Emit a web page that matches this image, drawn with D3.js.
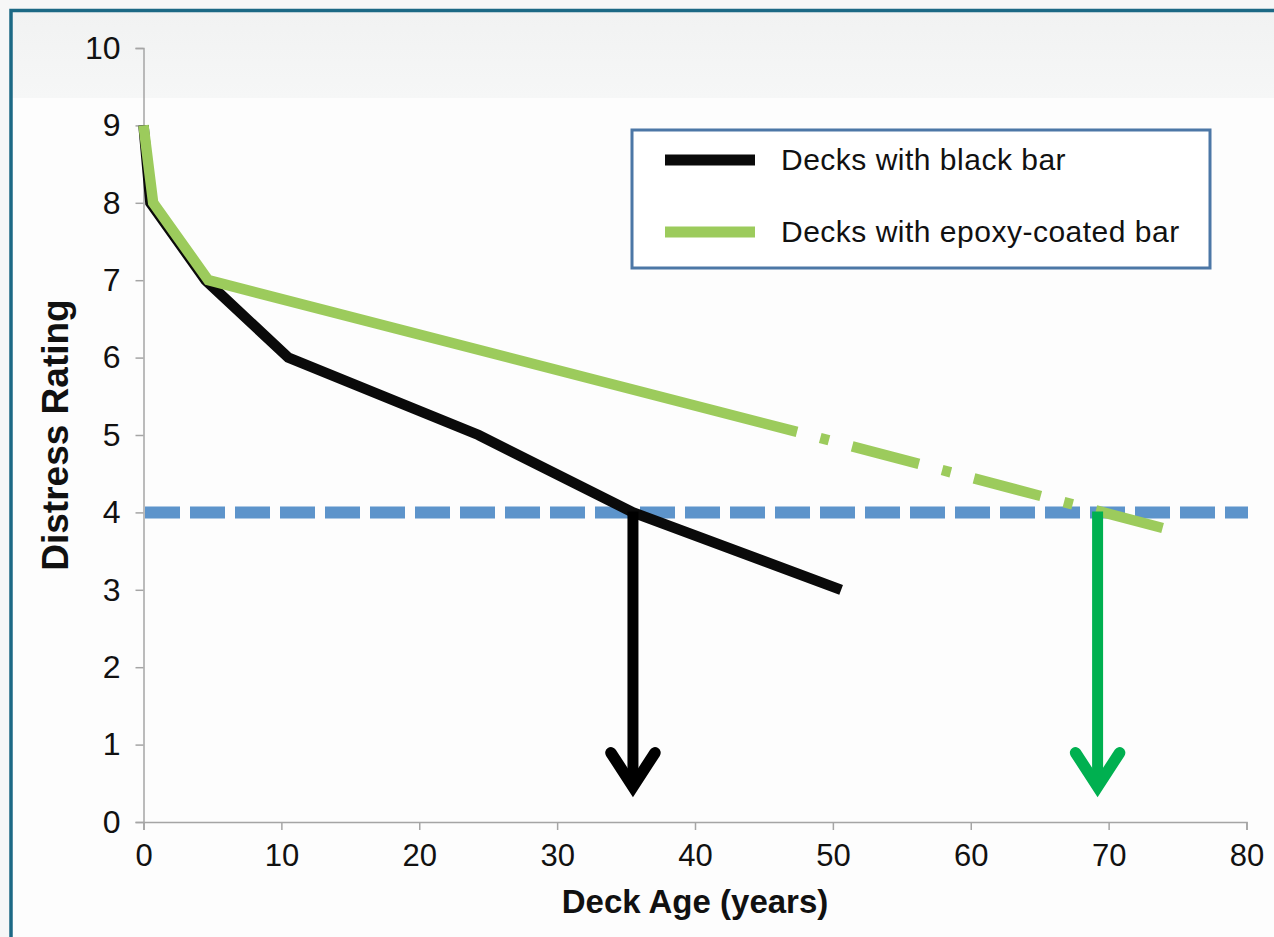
<!DOCTYPE html>
<html>
<head>
<meta charset="utf-8">
<script src="https://cdn.jsdelivr.net/npm/d3@7"></script>
<style>
  html, body { margin: 0; padding: 0; background: #fafafa; }
  svg { display: block; }
  text { font-family: "Liberation Sans", Arial, Helvetica, sans-serif; fill: #111; }
</style>
</head>
<body>
<svg id="chart" width="1274" height="937"></svg>
<script>
// Deck age (years) vs distress rating
const blackBarAge    = [0, 0.5, 4.5, 10.5, 24.3, 35.5, 50.6];
const blackBarRating = [9, 8,   7,   6,    5,    4,    3];

// epoxy-coated bar: observed part, then projected trend
const epoxyAge    = [0, 0.7, 4.7, 47.4];
const epoxyRating = [9, 8,   7,   5.04];
const epoxyProjAge    = [47.4, 74.1];
const epoxyProjRating = [5.04, 3.79];

const thresholdRating = 4;
const serviceLifeAge  = [35.5, 69.2];
const serviceLifeColor = ["#000000", "#00b050"];
const arrowTipRating = 0.3;

const xTicks = [0, 10, 20, 30, 40, 50, 60, 70, 80];
const yTicks = [0, 1, 2, 3, 4, 5, 6, 7, 8, 9, 10];

const legendLabels = ["Decks with black bar", "Decks with epoxy-coated bar"];
const legendColors = ["#0a0a0a", "#9ccb5c"];

const svg = d3.select("#chart");

// panel background and frame
const defs = svg.append("defs");
const grad = defs.append("linearGradient").attr("id", "band").attr("x1", 0).attr("y1", 0).attr("x2", 0).attr("y2", 1);
grad.append("stop").attr("offset", "0%").attr("stop-color", "#f1f2f2");
grad.append("stop").attr("offset", "100%").attr("stop-color", "#f6f7f7");

svg.append("rect").attr("x", 0).attr("y", 0).attr("width", 1274).attr("height", 937).attr("fill", "#f6f7f7");
svg.append("rect").attr("x", 11).attr("y", 11).attr("width", 1263).attr("height", 926).attr("fill", "#fdfdfd");
svg.append("rect").attr("x", 11).attr("y", 11).attr("width", 1263).attr("height", 87).attr("fill", "url(#band)");
svg.append("path").attr("d", "M11,937V10.5H1274")
  .attr("fill", "none").attr("stroke", "#1c6985").attr("stroke-width", 3.5);

const x = d3.scaleLinear().domain([0, 80]).range([143.5, 1246.5]);
const y = d3.scaleLinear().domain([0, 10]).range([822, 48]);

// axes
const xAxis = svg.append("g").attr("transform", `translate(0,${y(0)})`)
  .call(d3.axisBottom(x).tickValues(xTicks).tickSize(8).tickPadding(14).tickFormat(d3.format("d")));
const yAxis = svg.append("g").attr("transform", `translate(${x(0)},0)`)
  .call(d3.axisLeft(y).tickValues(yTicks).tickSize(8).tickPadding(15).tickFormat(d3.format("d")));
[xAxis, yAxis].forEach(g => {
  g.selectAll("path, line").attr("stroke", "#a5a5a5").attr("stroke-width", 1.5);
});
xAxis.selectAll("text").style("font-size", "31px").attr("fill", "#111");
yAxis.selectAll("text").style("font-size", "32px").attr("fill", "#111");

// axis titles
svg.append("text").attr("x", 695).attr("y", 913).attr("text-anchor", "middle")
  .style("font-size", "33px").style("font-weight", "bold").text("Deck Age (years)");
svg.append("text").attr("transform", "translate(68,435) rotate(-90)").attr("text-anchor", "middle")
  .style("font-size", "37px").style("font-weight", "bold").text("Distress Rating");

const line = d3.line().x(d => x(d[0])).y(d => y(d[1]));
const zip = (a, b) => a.map((v, i) => [v, b[i]]);

// threshold line
svg.append("path").datum([[0, thresholdRating], [80, thresholdRating]])
  .attr("d", line).attr("fill", "none").attr("stroke", "#5d94cb").attr("stroke-width", 12)
  .attr("stroke-dasharray", "35 10").attr("transform", "translate(1.5,0)");

// black bar curve
svg.append("path").datum(zip(blackBarAge, blackBarRating))
  .attr("d", line).attr("fill", "none").attr("stroke", legendColors[0]).attr("stroke-width", 10.5)
  .attr("stroke-linejoin", "miter");

// epoxy-coated bar curve
svg.append("path").datum(zip(epoxyAge, epoxyRating))
  .attr("d", line).attr("fill", "none").attr("stroke", legendColors[1]).attr("stroke-width", 10.5)
  .attr("stroke-linejoin", "miter");
svg.append("path").datum(zip(epoxyProjAge, epoxyProjRating))
  .attr("d", line).attr("fill", "none").attr("stroke", legendColors[1]).attr("stroke-width", 10.5)
  .attr("stroke-dasharray", "69 24 9 24").attr("stroke-dashoffset", 69);

// service-life arrows
serviceLifeAge.forEach((age, i) => {
  const ax = x(age), top = y(thresholdRating), tip = y(arrowTipRating);
  const g = svg.append("g").attr("fill", "none").attr("stroke", serviceLifeColor[i]);
  g.append("line").attr("x1", ax).attr("x2", ax).attr("y1", top - 1).attr("y2", tip - 14)
    .attr("stroke-width", 11);
  g.append("path").attr("d", `M${ax - 22},${tip - 46}L${ax},${tip - 12}L${ax + 22},${tip - 46}`)
    .attr("stroke-width", 11.5).attr("stroke-linecap", "round").attr("stroke-linejoin", "miter")
    .attr("stroke-miterlimit", 10);
});

// legend
const lg = svg.append("g");
lg.append("rect").attr("x", 632).attr("y", 130).attr("width", 578).attr("height", 138)
  .attr("fill", "#ffffff").attr("stroke", "#4c77a6").attr("stroke-width", 3);
legendLabels.forEach((label, i) => {
  const cy = 160 + i * 72;
  lg.append("line").attr("x1", 665).attr("x2", 755).attr("y1", cy).attr("y2", cy)
    .attr("stroke", legendColors[i]).attr("stroke-width", 11);
  lg.append("text").attr("x", 781).attr("y", cy + 10).style("font-size", "30px")
    .style("letter-spacing", "0.5px").text(label);
});
</script>
</body>
</html>
